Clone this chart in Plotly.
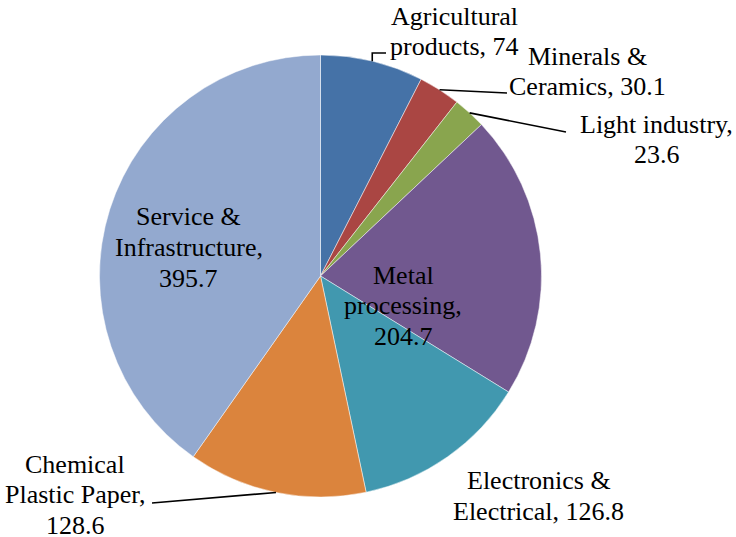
import math
import plotly.graph_objects as go

# Sector breakdown
categories = [
    "Agricultural products",
    "Minerals & Ceramics",
    "Light industry",
    "Metal processing",
    "Electronics & Electrical",
    "Chemical Plastic Paper",
    "Service & Infrastructure",
]
values = [74, 30.1, 23.6, 204.7, 126.8, 128.6, 395.7]
label_lines = [
    ["Agricultural", "products, 74"],
    ["Minerals &", "Ceramics, 30.1"],
    ["Light industry,", "23.6"],
    ["Metal", "processing,", "204.7"],
    ["Electronics &", "Electrical, 126.8"],
    ["Chemical", "Plastic Paper,", "128.6"],
    ["Service &", "Infrastructure,", "395.7"],
]
colors = ["#4572A7", "#AA4643", "#89A54E", "#71588F", "#4198AF", "#DB843D", "#93A9CF"]

W, H = 736, 537
CX, CY, R = 320.5, 276.0, 221.0
SERIF = "Liberation Serif"
LINE_GAP = 30.5


def px(x):
    return x / W


def py(y):
    return 1 - y / H


fig = go.Figure(
    go.Pie(
        labels=categories,
        values=values,
        sort=False,
        direction="clockwise",
        rotation=0,
        marker=dict(colors=colors, line=dict(color="rgba(255,255,255,0.6)", width=0.8)),
        textinfo="none",
        hoverinfo="label+value",
        showlegend=False,
        domain=dict(x=[px(CX - R), px(CX + R)], y=[py(CY + R), py(CY - R)]),
    )
)

# Mid-angle of every slice (clockwise from 12 o'clock) and its point on the rim
total = sum(values)
rim = []
acc = 0.0
for v in values:
    mid = (acc + v / 2) / total * 2 * math.pi
    rim.append((CX + R * math.sin(mid), CY - R * math.cos(mid)))
    acc += v

# Label block placement: centre x, centre y of first line
label_pos = [
    (454.5, 16.5),
    (587.5, 56.0),
    (656.5, 124.5),
    (403.0, 275.0),
    (538.5, 480.5),
    (75.0, 464.0),
    (188.5, 217.0),
]

for lines, (lx, ly) in zip(label_lines, label_pos):
    for k, line in enumerate(lines):
        fig.add_annotation(
            x=px(lx), y=py(ly + k * LINE_GAP), xref="paper", yref="paper",
            text=line, showarrow=False, xanchor="center", yanchor="middle",
            font=dict(family=SERIF, size=26, color="black"),
        )

# Leader lines from slice rims to their labels
leader_ends = {0: None, 1: (507, 93), 2: (566, 132), 5: (152, 503)}
for i, end in leader_ends.items():
    sx, sy = rim[i]
    if end is None:
        pts = [(sx, sy), (sx, 53), (386, 53)]
    else:
        pts = [(sx, sy), end]
    path = "M " + " L ".join(f"{px(x)},{py(y)}" for x, y in pts)
    fig.add_shape(type="path", path=path, xref="paper", yref="paper",
                  line=dict(color="black", width=1.6))

fig.update_layout(
    width=W,
    height=H,
    margin=dict(l=0, r=0, t=0, b=0),
    font=dict(family=SERIF, size=26, color="black"),
    paper_bgcolor="white",
    plot_bgcolor="white",
)

fig.write_html("out.html")
